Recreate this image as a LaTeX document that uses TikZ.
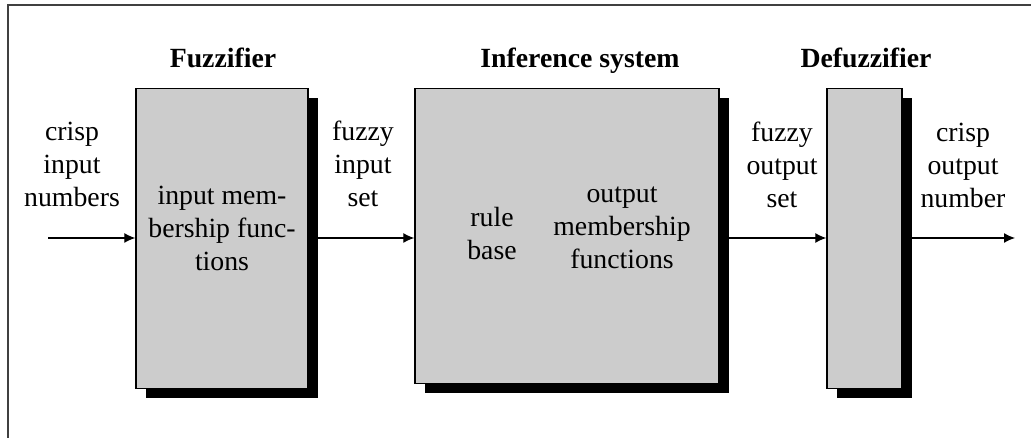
\documentclass[tikz,border=0pt]{standalone}
\usepackage{fontspec}
\setmainfont{Liberation Serif}
\usepackage{tikz}
\usetikzlibrary{positioning,arrows.meta,shadows}

\begin{document}
\begin{tikzpicture}[
  every node/.style={font=\fontsize{15.8}{18.8}\selectfont, inner sep=2pt},
  block/.style={draw=black, line width=0.8pt, fill=black!20, anchor=north,
    general shadow={shadow xshift=0.2cm, shadow yshift=-0.19cm, fill=black}},
  title/.style={font=\fontsize{15.8}{18.8}\selectfont\bfseries, anchor=base},
  lbl/.style={align=center},
  flow/.style={draw, line width=0.7pt, -{Latex[length=2.2mm,width=2mm]}}
]
\useasboundingbox (0,0) rectangle (20.62,8.76);
\draw[line width=1.1pt, black!75] (0.16,0) -- (0.16,8.66) -- (20.62,8.66);
\node[block, minimum width=3.44cm, minimum height=6cm] (fuzz) at (4.44,7.0) {};
\node[block, minimum width=6.08cm, minimum height=5.9cm] (infer) at (11.34,7.0) {};
\node[block, minimum width=1.5cm, minimum height=6cm] (defuzz) at (17.29,7.0) {};
\node[title] (tfuzz) at (4.46,7.4) {Fuzzifier};
\node[title] (tinfer) at (11.6,7.4) {Inference system};
\node[title] (tdefuzz) at (17.32,7.4) {Defuzzifier};
\node[lbl] (crispin) at (1.44,5.48) {crisp\\input\\numbers};
\node[lbl] (fuzzyin) at (7.26,5.48) {fuzzy\\input\\set};
\node[lbl] (fuzzyout) at (15.64,5.46) {fuzzy\\output\\set};
\node[lbl] (crispout) at (19.26,5.46) {crisp\\output\\number};
\node[lbl] (inmf) at (fuzz.center) [yshift=0.2cm] {input mem-\\bership func-\\tions};
\node[lbl] (rules) at (9.84,4.09) {rule\\base};
\node[lbl] (outmf) at (12.44,4.2) {output\\membership\\functions};
\coordinate (in) at (0.96,4.0);
\coordinate (out) at (20.3,4.0);
\draw[flow] (in) -- (in -| fuzz.west);
\draw[flow] (fuzz.east |- in) -- (in -| infer.west);
\draw[flow] (infer.east |- in) -- (in -| defuzz.west);
\draw[flow] (defuzz.east |- in) -- (out);
\end{tikzpicture}
\end{document}
